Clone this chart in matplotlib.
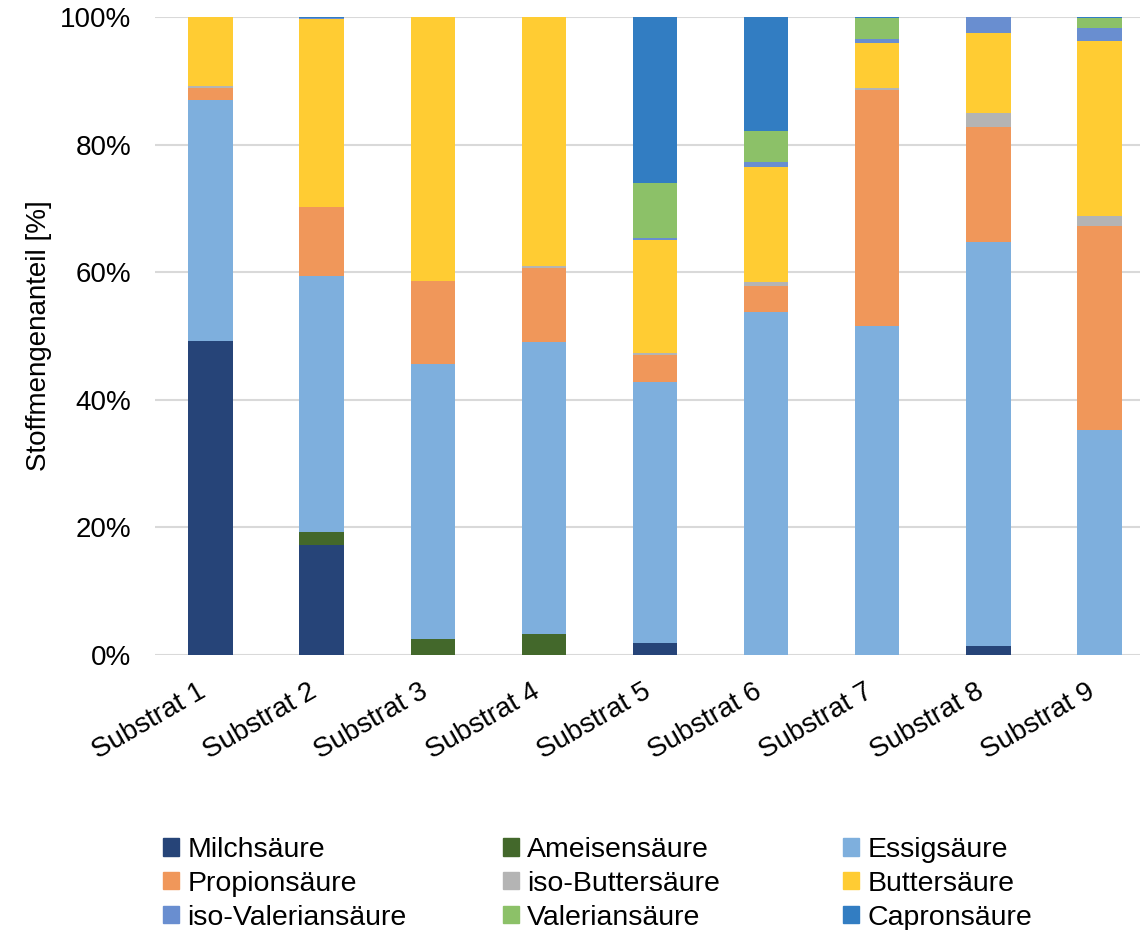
import matplotlib.pyplot as plt
from matplotlib.patches import Patch
from matplotlib.ticker import PercentFormatter

plt.rcParams['font.family'] = ['Liberation Sans', 'DejaVu Sans']

# Substrate und Säureanteile (Stoffmengenanteil in %)
substrate = ['Substrat 1', 'Substrat 2', 'Substrat 3', 'Substrat 4', 'Substrat 5',
             'Substrat 6', 'Substrat 7', 'Substrat 8', 'Substrat 9']

milch      = [49.2, 17.2,  0.0,  0.0,  1.9,  0.0,  0.0,  1.4,  0.0]
ameisen    = [ 0.0,  2.1,  2.5,  3.3,  0.0,  0.0,  0.0,  0.0,  0.0]
essig      = [37.8, 40.1, 43.1, 45.8, 40.9, 53.8, 51.6, 63.3, 35.3]
propion    = [ 1.9, 10.8, 13.0, 11.6,  4.2,  4.0, 36.9, 18.0, 32.0]
iso_butter = [ 0.3,  0.0,  0.0,  0.3,  0.3,  0.7,  0.4,  2.2,  1.5]
butter     = [10.8, 29.5, 41.4, 39.0, 17.7, 18.0,  7.0, 12.6, 27.4]
iso_valer  = [ 0.0,  0.1,  0.0,  0.0,  0.3,  0.8,  0.7,  2.5,  2.1]
valerian   = [ 0.0,  0.0,  0.0,  0.0,  8.7,  4.8,  3.2,  0.0,  1.5]
capron     = [ 0.0,  0.2,  0.0,  0.0, 26.0, 17.9,  0.2,  0.0,  0.2]

reihen = [
    ('Milchsäure', milch, '#264478'),
    ('Ameisensäure', ameisen, '#43682B'),
    ('Essigsäure', essig, '#7EAFDD'),
    ('Propionsäure', propion, '#F0975A'),
    ('iso-Buttersäure', iso_butter, '#B4B4B4'),
    ('Buttersäure', butter, '#FFCC33'),
    ('iso-Valeriansäure', iso_valer, '#698ED0'),
    ('Valeriansäure', valerian, '#8CC168'),
    ('Capronsäure', capron, '#327DC2'),
]

fs = 20

fig = plt.figure(figsize=(11.4, 9.3), dpi=100)
ax = fig.add_axes([155 / 1140, 275 / 930, 1000 / 1140, 638 / 930])

x = list(range(len(substrate)))
unten = [0.0] * len(substrate)
for name, werte, farbe in reihen:
    ax.bar(x, werte, width=0.4, bottom=unten, color=farbe, zorder=3)
    unten = [u + w for u, w in zip(unten, werte)]

ax.set_xlim(-0.5, 8.5)
ax.set_ylim(0, 100)
ax.set_yticks([0, 20, 40, 60, 80, 100])
ax.yaxis.set_major_formatter(PercentFormatter(decimals=0))
ax.grid(axis='y', color='#D9D9D9', linewidth=1.5, zorder=0)
for s in ax.spines.values():
    s.set_visible(False)
ax.tick_params(axis='both', length=0, labelsize=fs, colors='black')
ax.tick_params(axis='y', pad=17)
ax.set_xticks(x)
ax.set_xticklabels(substrate, rotation=30, ha='right', va='top')
ax.tick_params(axis='x', pad=17)
ax.set_ylabel('Stoffmengenanteil [%]', fontsize=fs, color='black')
ax.yaxis.set_label_coords(-0.103, 0.5)

# Legende: drei Spalten, zeilenweise gelesen
spalten_x = [163, 503, 843]
for k, px in enumerate(spalten_x):
    eintraege = [reihen[k], reihen[k + 3], reihen[k + 6]]
    fig.legend([Patch(color=e[2]) for e in eintraege], [e[0] for e in eintraege],
               loc='upper left', bbox_to_anchor=(px / 1140, 1 - 837 / 930),
               frameon=False, fontsize=20.5, handlelength=0.55, handleheight=0.55,
               handletextpad=0.3, labelspacing=0.28, borderpad=0, borderaxespad=0)

fig.savefig('out.png', dpi=100)
